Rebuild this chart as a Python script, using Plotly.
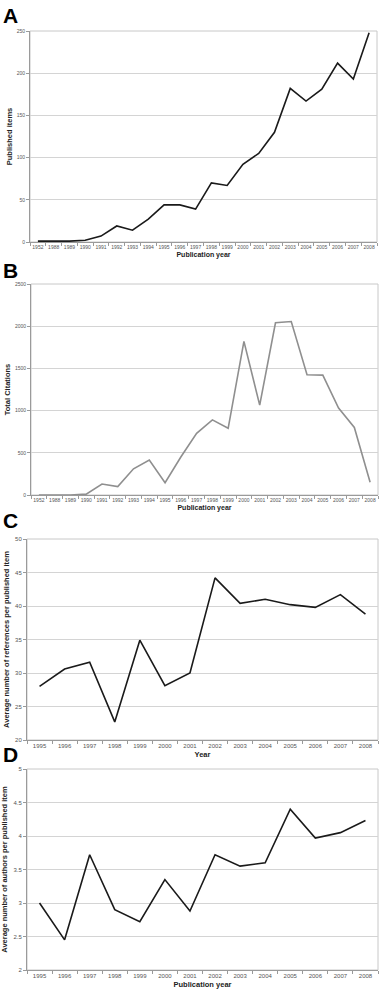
import plotly.graph_objects as go

years_ab = ["1952", "1988", "1989", "1990", "1991", "1992", "1993", "1994", "1995", "1996", "1997",
            "1998", "1999", "2000", "2001", "2002", "2003", "2004", "2005", "2006", "2007", "2008"]
published_items = [1, 1, 1, 2, 7, 19, 14, 27, 44, 44, 39, 70, 67, 92, 105, 130, 182, 167, 181, 212, 193, 248]
total_citations = [0, 0, 0, 10, 130, 100, 310, 415, 145, 450, 730, 890, 790, 1820, 1065, 2040, 2055,
                   1425, 1420, 1030, 800, 150]

years_cd = ["1995", "1996", "1997", "1998", "1999", "2000", "2001", "2002", "2003", "2004", "2005",
            "2006", "2007", "2008"]
avg_references = [28.0, 30.6, 31.6, 22.7, 34.9, 28.1, 30.0, 44.2, 40.4, 41.0, 40.2, 39.8, 41.7, 38.8]
avg_authors = [3.0, 2.45, 3.72, 2.9, 2.72, 3.35, 2.88, 3.72, 3.55, 3.6, 4.4, 3.97, 4.05, 4.23]

W, H = 387, 1000
FONT = "Liberation Sans, Arial, sans-serif"
GRID = "#d4d4d4"
FRAME = "#c8c8c8"
AXIS = "#9a9a9a"
TICKC = "#555555"

fig = go.Figure()

def px_x(x):
    return x / W

def px_y(y):
    return 1 - y / H

panels = [
    ("", years_ab, published_items, "#1a1a1a", (30, 377), (31, 242), (0, 250), 50,
     "Published items", "Publication year", 5, 3),
    ("2", years_ab, total_citations, "#8f8f8f", (31, 378), (284, 495), (0, 2500), 500,
     "Total Citations", "Publication year", 5, 3),
    ("3", years_cd, avg_references, "#1a1a1a", (27, 378), (539, 740), (20, 50), 5,
     "Average number of references per published item", "Year", 6, 4),
    ("4", years_cd, avg_authors, "#1a1a1a", (27, 378), (769, 970), (2, 5), 0.5,
     "Average number of authors per published item", "Publication year", 6, 4),
]

for i, (s, xs, ys, col, xd, yd, yr, dt, yt, xt, tf, ysd) in enumerate(panels):
    fig.add_trace(go.Scatter(x=xs, y=ys, mode="lines", line=dict(color=col, width=1.6),
                             xaxis="x" + s, yaxis="y" + s, showlegend=False))
    xa = dict(domain=[px_x(xd[0]), px_x(xd[1])], anchor="y" + s, type="category",
              range=[-0.5, len(xs) - 0.5], tickson="boundaries", ticks="outside", ticklen=3,
              tickcolor=AXIS, tickwidth=1, showgrid=False, showline=True, linecolor=AXIS,
              linewidth=1, mirror=False, zeroline=False, tickangle=0, automargin=False,
              tickfont=dict(family=FONT, size=tf, color=TICKC),
              title=dict(text="<b>" + xt + "</b>", font=dict(family=FONT, size=7 if tf == 5 else 7.5,
                                                             color="#222"), standoff=3))
    ya = dict(domain=[px_y(yd[1]), px_y(yd[0])], anchor="x" + s, range=list(yr), dtick=dt,
              ticks="outside", ticklen=3, tickcolor=AXIS, showgrid=True, gridcolor=GRID,
              gridwidth=1, showline=True, linecolor=AXIS, linewidth=1, zeroline=False,
              automargin=False,
              tickfont=dict(family=FONT, size=tf, color=TICKC),
              title=dict(text="<b>" + yt + "</b>", font=dict(family=FONT, size=7.5, color="#222"),
                         standoff=ysd))
    fig.layout["xaxis" + s] = xa
    fig.layout["yaxis" + s] = ya
    fig.add_shape(type="rect", xref="x" + s + " domain", yref="y" + s + " domain",
                  x0=0, x1=1, y0=0, y1=1, line=dict(color=FRAME, width=1), layer="below")

letters = [("A", 15), ("B", 270), ("C", 520), ("D", 754)]
for t, yc in letters:
    fig.add_annotation(text="<b>" + t + "</b>", xref="paper", yref="paper", x=px_x(1),
                       y=px_y(yc), xanchor="left", yanchor="middle", showarrow=False,
                       font=dict(family=FONT, size=21, color="#000"))

fig.update_layout(width=W, height=H, margin=dict(l=0, r=0, t=0, b=0),
                  paper_bgcolor="white", plot_bgcolor="white")

fig.write_html("out.html", config={"displayModeBar": False},
               post_script="document.body.style.margin='0';document.body.style.overflow='hidden';")
